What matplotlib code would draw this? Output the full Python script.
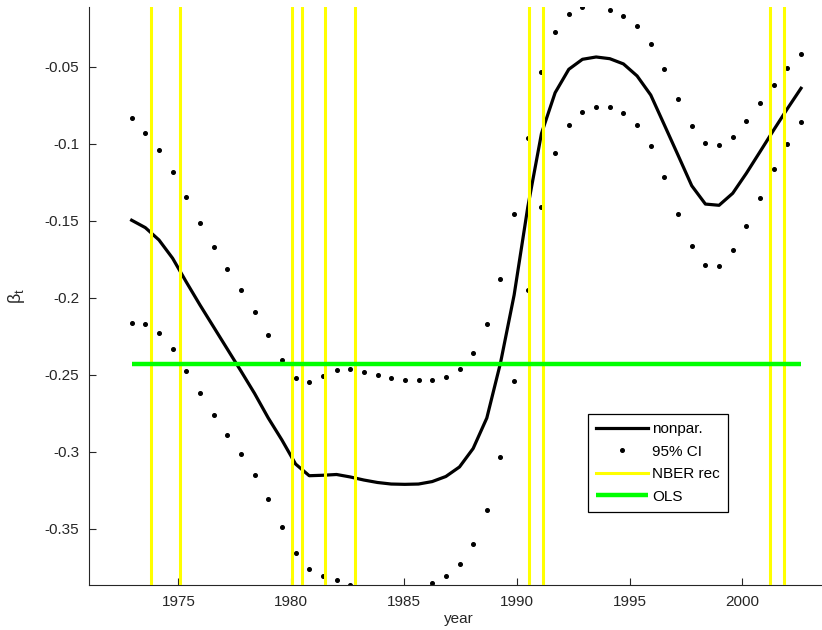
import numpy as np
import matplotlib
matplotlib.use("Agg")
import matplotlib.pyplot as plt

# ---------------- data ----------------
years = np.linspace(1972.93, 2002.60, 50)

nonpar = [-0.1497, -0.1545, -0.1625, -0.1744, -0.1898, -0.2047, -0.2190, -0.2333, -0.2476, -0.2622,
          -0.2781, -0.2924, -0.3080, -0.3156, -0.3153, -0.3148, -0.3164, -0.3184, -0.3200, -0.3210,
          -0.3212, -0.3210, -0.3194, -0.3161, -0.3099, -0.2979, -0.2781, -0.2424, -0.1982, -0.1411,
          -0.0934, -0.0669, -0.0517, -0.0452, -0.0437, -0.0448, -0.0482, -0.0560, -0.0684, -0.0879,
          -0.1075, -0.1273, -0.1392, -0.1400, -0.1322, -0.1192, -0.1052, -0.0911, -0.0773, -0.0640]

ci_upper = [-0.0835, -0.0931, -0.1043, -0.1184, -0.1346, -0.1513, -0.1673, -0.1816, -0.1950, -0.2091,
            -0.2244, -0.2405, -0.2519, -0.2547, -0.2510, -0.2471, -0.2465, -0.2483, -0.2504, -0.2519,
            -0.2532, -0.2536, -0.2534, -0.2513, -0.2461, -0.2357, -0.2173, -0.1879, -0.1458, -0.0961,
            -0.0532, -0.0277, -0.0158, -0.0114, -0.0093, -0.0130, -0.0169, -0.0238, -0.0353, -0.0515,
            -0.0708, -0.0885, -0.0994, -0.1008, -0.0955, -0.0855, -0.0738, -0.0619, -0.0510, -0.0416]

ci_lower = [-0.2162, -0.2171, -0.2231, -0.2335, -0.2474, -0.2621, -0.2764, -0.2894, -0.3017, -0.3151,
            -0.3309, -0.3491, -0.3656, -0.3760, -0.3805, -0.3833, -0.3866, -0.3892, -0.3905, -0.3911,
            -0.3905, -0.3885, -0.3851, -0.3807, -0.3731, -0.3597, -0.3379, -0.3034, -0.2541, -0.1950,
            -0.1413, -0.1060, -0.0879, -0.0792, -0.0760, -0.0764, -0.0799, -0.0879, -0.1017, -0.1216,
            -0.1455, -0.1666, -0.1790, -0.1794, -0.1692, -0.1532, -0.1351, -0.1166, -0.1000, -0.0861]

nber_dates = [1973.79, 1975.08, 1980.03, 1980.50, 1981.52, 1982.83, 1990.55, 1991.18, 2001.21, 2001.86]
ols_beta = -0.2433

xticks = [1975, 1980, 1985, 1990, 1995, 2000]
yticks = [-0.35, -0.3, -0.25, -0.2, -0.15, -0.1, -0.05]
ytick_labels = ["-0.35", "-0.3", "-0.25", "-0.2", "-0.15", "-0.1", "-0.05"]

# ---------------- plot ----------------
plt.rcParams['font.family'] = ['Liberation Sans', 'DejaVu Sans']
plt.rcParams['mathtext.fontset'] = 'custom'
plt.rcParams['mathtext.rm'] = 'Liberation Sans'
plt.rcParams['mathtext.it'] = 'Liberation Sans'

W, H = 822, 630
fig = plt.figure(figsize=(W / 100, H / 100), dpi=100)
ax = fig.add_axes([89 / W, 1 - 585 / H, (829 - 89) / W, (585 - 7) / H])

ax.plot(years, nonpar, color='black', lw=2.3, label='nonpar.', zorder=2)
ax.plot(years, ci_upper, ls='none', marker='o', ms=2.6, color='black', label='95% CI', zorder=2)
ax.plot(years, ci_lower, ls='none', marker='o', ms=2.6, color='black', zorder=2)
for i, d in enumerate(nber_dates):
    ax.axvline(d, color='#ffff00', lw=2.2, zorder=3, label='NBER rec' if i == 0 else None)
ax.plot([years[0], years[-1]], [ols_beta, ols_beta], color='#00ff00', lw=3.2, label='OLS', zorder=4,
        solid_capstyle='butt')

ax.set_xlim(1971.04, 2003.84)
ax.set_ylim(-0.38656, -0.01124)
ax.set_xticks(xticks)
ax.set_xticklabels([str(t) for t in xticks])
ax.set_yticks(yticks)
ax.set_yticklabels(ytick_labels)

ax.spines['top'].set_visible(False)
ax.spines['right'].set_visible(False)
for s in ('left', 'bottom'):
    ax.spines[s].set_color('#262626')
    ax.spines[s].set_linewidth(0.8)
ax.tick_params(direction='in', length=5, width=0.8, color='#262626', labelsize=11,
               labelcolor='#262626', pad=7)

ax.set_xlabel('year', fontsize=11, color='#262626', labelpad=2)
ax.set_ylabel(r'$\beta_t$', fontsize=13, color='#262626', labelpad=13)

leg = ax.legend(loc='upper left', bbox_to_anchor=(587.7 / W, 1 - 414 / H), bbox_transform=fig.transFigure,
                borderaxespad=0, fancybox=False, framealpha=1, edgecolor='black', fontsize=11,
                handlelength=3.4, handletextpad=0.25, labelspacing=0.55, borderpad=0.55, numpoints=1)
leg.get_frame().set_linewidth(0.9)

fig.savefig('out.png', dpi=100)
